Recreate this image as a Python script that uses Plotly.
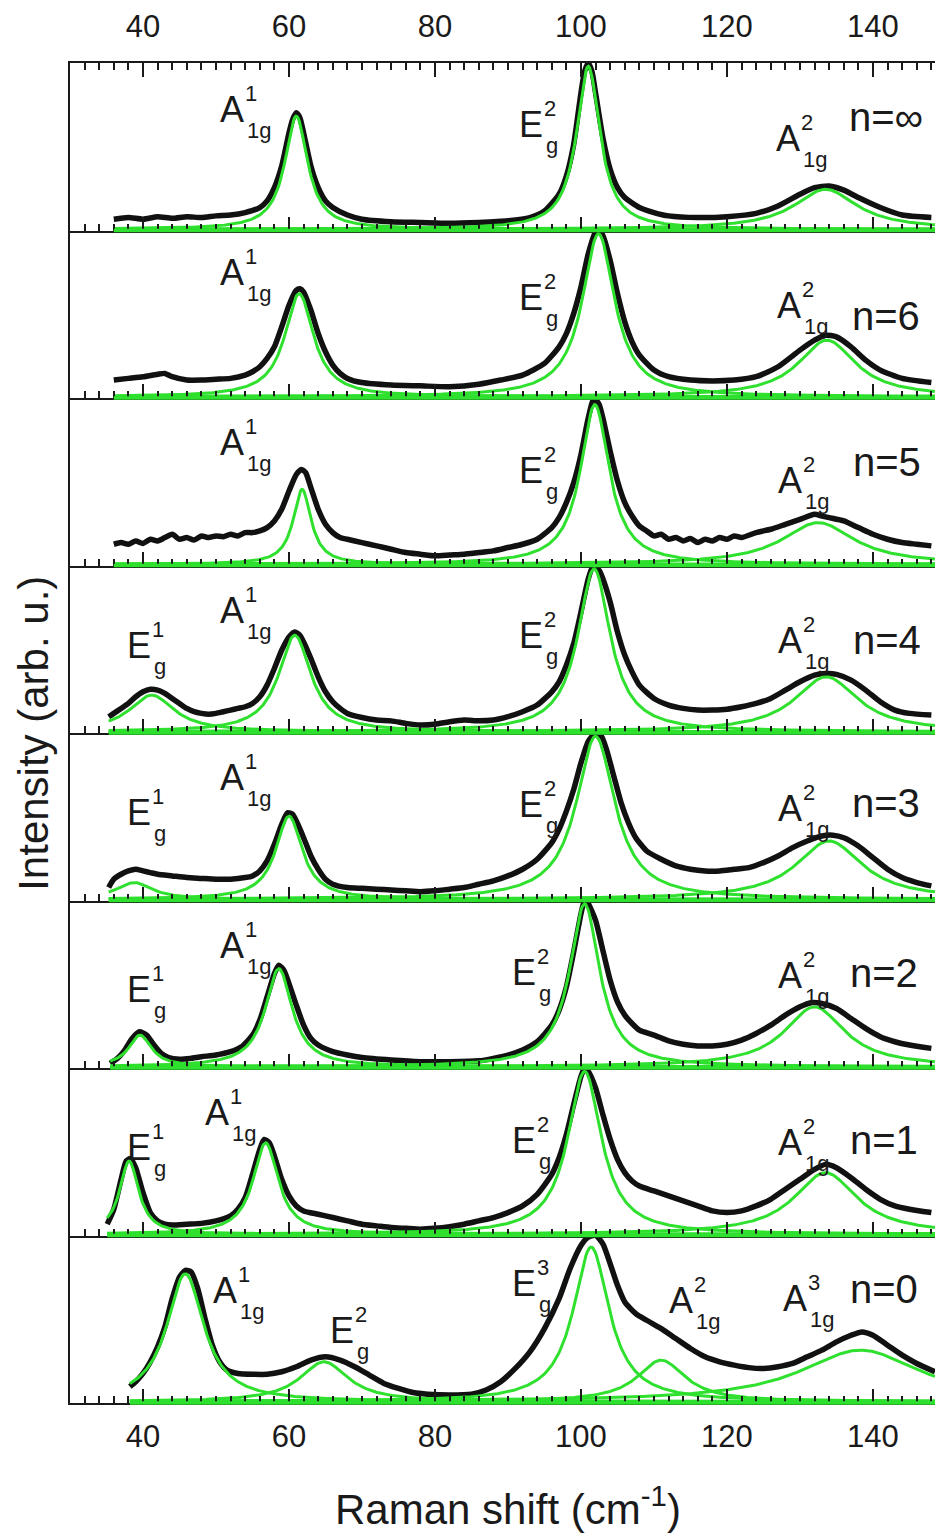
import numpy as np
import plotly.graph_objects as go
from plotly.subplots import make_subplots

FONT = "Liberation Sans, Arial, sans-serif"
INK = "#1a1a1a"
FIT_GREEN = "#2fe02f"

# Raman shift window (cm^-1)
X_MIN, X_MAX = 30, 148.5

# sample labels, top panel to bottom panel
samples = ["n=∞", "n=6", "n=5", "n=4", "n=3", "n=2", "n=1", "n=0"]

# ---- measured spectra (normalised intensity) ----
shift_inf = [36, 38, 40, 42, 44, 46, 48, 50, 52, 54,
             56, 57, 58, 59, 60, 60.5, 61, 61.5, 62, 63,
             64, 65, 66, 68, 70, 74, 78, 82, 86, 90,
             93, 95, 97, 98, 99, 100, 100.5, 101, 101.5, 102,
             103, 104, 105, 106, 108, 110, 112, 116, 120, 124,
             127, 130, 132, 134, 136, 138, 141, 144, 148]
int_inf = [0.06, 0.07, 0.06, 0.075, 0.065, 0.075, 0.07, 0.08, 0.085, 0.10,
           0.13, 0.17, 0.25, 0.38, 0.58, 0.66, 0.70, 0.67, 0.58, 0.38,
           0.25, 0.17, 0.13, 0.085, 0.06, 0.045, 0.04, 0.035, 0.04, 0.05,
           0.07, 0.11, 0.21, 0.32, 0.51, 0.82, 0.95, 1.0, 0.95, 0.82,
           0.55, 0.36, 0.25, 0.19, 0.13, 0.10, 0.08, 0.07, 0.075, 0.095,
           0.14, 0.21, 0.25, 0.26, 0.235, 0.19, 0.13, 0.085, 0.07]

shift_6 = [36, 38, 40, 42, 43, 44, 46, 48, 50, 52,
           54, 55, 56, 57, 58, 59, 60, 61, 61.5, 62,
           63, 64, 65, 66, 67, 68, 70, 74, 78, 82,
           86, 89, 92, 95, 97, 98, 99, 100, 101, 102,
           102.5, 103, 104, 105, 106, 107, 108, 110, 112, 115,
           118, 121, 124, 127, 130, 132, 133.5, 135, 137, 139,
           141, 144, 148]
int_6 = [0.10, 0.11, 0.12, 0.135, 0.14, 0.12, 0.10, 0.10, 0.105, 0.11,
         0.13, 0.15, 0.18, 0.23, 0.30, 0.42, 0.55, 0.64, 0.65, 0.63,
         0.52, 0.38, 0.27, 0.19, 0.14, 0.11, 0.085, 0.07, 0.065, 0.06,
         0.075, 0.10, 0.13, 0.20, 0.30, 0.38, 0.50, 0.66, 0.86, 0.99,
         1.0, 0.97, 0.82, 0.62, 0.45, 0.33, 0.25, 0.16, 0.12, 0.10,
         0.095, 0.10, 0.12, 0.18, 0.28, 0.34, 0.37, 0.36, 0.30, 0.22,
         0.16, 0.11, 0.085]

shift_5 = [36, 37, 38, 39, 40, 41, 42, 43, 44, 45,
           46, 47, 48, 49, 50, 51, 52, 53, 54, 55,
           56, 57, 58, 59, 60, 61, 61.7, 62.3, 63, 64,
           65, 66, 67, 68, 70, 72, 74, 76, 78, 80,
           82, 84, 86, 88, 90, 92, 94, 96, 97, 98,
           99, 100, 101, 101.8, 102.5, 103, 104, 105, 106, 107,
           108, 109, 110, 111, 112, 113, 114, 115, 116, 117,
           118, 119, 120, 121, 122, 124, 126, 128, 130, 132,
           133, 134, 136, 138, 140, 142, 144, 146, 148]
int_5 = [0.12, 0.13, 0.12, 0.14, 0.125, 0.15, 0.14, 0.16, 0.18, 0.15,
         0.16, 0.145, 0.17, 0.16, 0.17, 0.165, 0.18, 0.17, 0.19, 0.19,
         0.20, 0.22, 0.26, 0.33, 0.44, 0.54, 0.57, 0.55, 0.46, 0.33,
         0.24, 0.19, 0.16, 0.15, 0.13, 0.11, 0.09, 0.07, 0.06, 0.05,
         0.055, 0.06, 0.07, 0.08, 0.10, 0.12, 0.15, 0.22, 0.28, 0.37,
         0.49, 0.66, 0.88, 1.0, 0.96, 0.88, 0.68, 0.50, 0.37, 0.29,
         0.23, 0.20, 0.17, 0.18, 0.15, 0.16, 0.14, 0.155, 0.13, 0.15,
         0.14, 0.16, 0.15, 0.17, 0.16, 0.19, 0.21, 0.24, 0.27, 0.30,
         0.29, 0.28, 0.26, 0.22, 0.18, 0.15, 0.13, 0.12, 0.11]

shift_4 = [35.3, 36, 37, 38, 39, 40, 41, 42, 43, 44,
           45, 46, 47, 48, 49, 50, 51, 52, 53, 54,
           55, 56, 57, 58, 59, 60, 60.8, 61.5, 62, 63,
           64, 65, 66, 67, 68, 70, 72, 74, 76, 78,
           80, 82, 84, 86, 88, 90, 92, 94, 96, 97,
           98, 99, 100, 101, 101.7, 102.5, 103, 104, 105, 106,
           107, 108, 110, 112, 114, 116, 118, 120, 122, 124,
           126, 128, 130, 132, 133.5, 135, 137, 139, 141, 143,
           145, 148]
int_4 = [0.09, 0.11, 0.14, 0.17, 0.21, 0.24, 0.255, 0.25, 0.23, 0.20,
         0.17, 0.14, 0.12, 0.11, 0.105, 0.11, 0.12, 0.13, 0.14, 0.15,
         0.17, 0.21, 0.28, 0.38, 0.49, 0.57, 0.60, 0.58, 0.54, 0.44,
         0.33, 0.24, 0.18, 0.14, 0.11, 0.085, 0.07, 0.065, 0.05, 0.04,
         0.045, 0.06, 0.07, 0.065, 0.07, 0.09, 0.12, 0.16, 0.24, 0.30,
         0.40, 0.53, 0.72, 0.92, 1.0, 0.97, 0.92, 0.78, 0.60, 0.46,
         0.36, 0.28, 0.20, 0.16, 0.14, 0.13, 0.13, 0.135, 0.15, 0.17,
         0.20, 0.25, 0.30, 0.34, 0.35, 0.345, 0.31, 0.25, 0.18, 0.13,
         0.11, 0.10]

shift_3 = [35.3, 36, 37, 38, 39, 40, 41, 42, 44, 46,
           48, 50, 52, 54, 55, 56, 57, 58, 59, 59.8,
           60.5, 61, 62, 63, 64, 65, 66, 68, 70, 72,
           74, 76, 78, 80, 82, 84, 86, 88, 90, 92,
           94, 96, 97, 98, 99, 100, 101, 102, 102.8, 103.5,
           104.5, 105.5, 106.5, 107.5, 109, 111, 113, 115, 117, 119,
           121, 123, 125, 127, 129, 131, 133, 134.5, 136, 138,
           140, 142, 144, 146, 148]
int_3 = [0.07, 0.12, 0.15, 0.17, 0.18, 0.17, 0.16, 0.15, 0.14, 0.13,
         0.125, 0.12, 0.12, 0.13, 0.14, 0.17, 0.23, 0.33, 0.45, 0.52,
         0.51, 0.47, 0.37, 0.26, 0.18, 0.12, 0.09, 0.07, 0.065, 0.06,
         0.055, 0.05, 0.045, 0.05, 0.06, 0.07, 0.09, 0.11, 0.14, 0.18,
         0.24, 0.34, 0.42, 0.53, 0.66, 0.82, 0.95, 1.0, 0.98, 0.90,
         0.74, 0.58, 0.46, 0.37, 0.29, 0.24, 0.20, 0.18, 0.17, 0.17,
         0.18, 0.19, 0.22, 0.26, 0.31, 0.35, 0.38, 0.385, 0.37, 0.32,
         0.25, 0.18, 0.13, 0.10, 0.08]

shift_2 = [35.5, 36.5, 37.5, 38.5, 39.5, 40.5, 41.5, 42.5, 43.5, 45,
           46.5, 48, 50, 52, 53.5, 55, 56, 57, 58, 58.6,
           59.3, 60, 61, 62, 63, 64, 66, 68, 70, 74,
           78, 82, 86, 88, 90, 92, 94, 96, 97, 98,
           99, 100, 100.5, 101, 102, 103, 104, 105, 106, 107,
           108, 110, 112, 114, 116, 118, 120, 122, 124, 126,
           128, 130, 131.5, 133, 135, 137, 139, 141, 143, 145,
           148]
int_2 = [0.02, 0.05, 0.10, 0.17, 0.21, 0.19, 0.13, 0.08, 0.055, 0.045,
         0.05, 0.06, 0.07, 0.09, 0.12, 0.19, 0.28, 0.42, 0.56, 0.61,
         0.58, 0.50, 0.37, 0.25, 0.17, 0.13, 0.09, 0.07, 0.055, 0.04,
         0.03, 0.03, 0.035, 0.05, 0.07, 0.10, 0.15, 0.25, 0.34, 0.48,
         0.69, 0.92, 1.0, 0.98, 0.88, 0.70, 0.52, 0.39, 0.31, 0.26,
         0.22, 0.19, 0.155, 0.135, 0.125, 0.125, 0.135, 0.16, 0.20, 0.25,
         0.31, 0.36, 0.385, 0.38, 0.35, 0.29, 0.23, 0.18, 0.15, 0.13,
         0.11]

shift_1 = [35.1, 36, 37, 37.7, 38.3, 39, 40, 41, 42, 43,
           44, 46, 48, 50, 52, 53, 54, 55, 56, 56.6,
           57.3, 58, 59, 60, 61, 62, 64, 66, 68, 70,
           72, 74, 76, 78, 80, 82, 84, 86, 88, 90,
           92, 94, 96, 97, 98, 99, 100, 100.5, 101, 102,
           103, 104, 105, 106, 107, 108, 110, 112, 114, 116,
           118, 120, 122, 124, 126, 128, 130, 132, 133.5, 135,
           137, 139, 141, 143, 145, 148]
int_1 = [0.06, 0.15, 0.33, 0.44, 0.455, 0.40, 0.25, 0.13, 0.08, 0.06,
         0.055, 0.06, 0.065, 0.08, 0.11, 0.15, 0.22, 0.36, 0.51, 0.57,
         0.55, 0.47, 0.33, 0.23, 0.17, 0.14, 0.12, 0.10, 0.08, 0.06,
         0.05, 0.04, 0.035, 0.03, 0.035, 0.045, 0.06, 0.08, 0.10, 0.13,
         0.17, 0.24, 0.36, 0.46, 0.60, 0.78, 0.95, 1.0, 0.98, 0.88,
         0.72, 0.57, 0.45, 0.37, 0.32, 0.29, 0.26, 0.23, 0.20, 0.17,
         0.14, 0.13, 0.14, 0.17, 0.21, 0.27, 0.33, 0.39, 0.42, 0.40,
         0.34, 0.27, 0.21, 0.17, 0.15, 0.13]

shift_0 = [38.2, 39, 40, 41, 42, 43, 44, 45, 45.8, 46.6,
           47.5, 48.5, 49.5, 50.5, 51.5, 53, 55, 57, 59, 61,
           63, 65, 67, 69, 71, 73, 75, 77, 79, 82,
           85, 87, 89, 91, 93, 95, 97, 98.5, 100, 101,
           102, 103, 104, 105, 106, 107.5, 109, 111, 113, 115,
           117, 119, 121, 123, 125, 127, 129, 131, 133, 135,
           137, 138.5, 140, 142, 144, 146, 148.5]
int_0 = [0.09, 0.12, 0.17, 0.24, 0.33, 0.45, 0.62, 0.75, 0.79, 0.78,
         0.68, 0.50, 0.34, 0.24, 0.19, 0.17, 0.165, 0.165, 0.18, 0.21,
         0.25, 0.27, 0.25, 0.21, 0.16, 0.11, 0.08, 0.055, 0.045, 0.04,
         0.045, 0.07, 0.12, 0.20, 0.30, 0.44, 0.62, 0.80, 0.94, 0.99,
         1.0, 0.95, 0.83, 0.70, 0.60, 0.53, 0.49, 0.44, 0.38, 0.32,
         0.27, 0.24, 0.22, 0.205, 0.20, 0.21, 0.23, 0.27, 0.31, 0.36,
         0.40, 0.42, 0.40, 0.34, 0.28, 0.23, 0.18]

spectra = [(shift_inf, int_inf), (shift_6, int_6), (shift_5, int_5), (shift_4, int_4),
           (shift_3, int_3), (shift_2, int_2), (shift_1, int_1), (shift_0, int_0)]

# ---- Lorentzian fit components: centre (cm^-1), FWHM (cm^-1), height ----
fit_center = [[61.0, 101.0, 133.5],
              [61.4, 102.4, 133.7],
              [61.8, 101.9, 132.5],
              [41.2, 60.8, 101.8, 133.6],
              [38.8, 60.0, 102.0, 134.0],
              [39.6, 58.6, 100.5, 132.0],
              [38.1, 56.8, 100.5, 133.5],
              [45.8, 64.8, 101.4, 111.0, 138.3]]
fit_fwhm = [[3.8, 3.9, 10.5],
            [4.8, 5.4, 9.5],
            [3.0, 4.8, 12.0],
            [7.5, 5.4, 5.4, 10.5],
            [6.0, 4.4, 6.4, 11.0],
            [3.8, 4.5, 5.0, 10.0],
            [3.2, 4.2, 5.6, 10.5],
            [6.2, 8.0, 6.0, 8.0, 20.0]]
fit_height = [[0.68, 0.98, 0.24],
              [0.62, 0.98, 0.34],
              [0.45, 0.96, 0.25],
              [0.22, 0.58, 0.98, 0.33],
              [0.10, 0.50, 0.98, 0.35],
              [0.19, 0.59, 0.98, 0.36],
              [0.44, 0.55, 0.98, 0.37],
              [0.77, 0.24, 0.93, 0.25, 0.31]]
fit_start = [36.0, 36.0, 36.0, 35.3, 35.3, 35.5, 35.1, 38.2]

# ---- mode labels: (letter, superscript, subscript, shift, height in panel) ----
mode_labels = [
    [("A", "1", "1g", 52.2, 0.72), ("E", "2", "g", 93.15, 0.63), ("A", "2", "1g", 128.4, 0.55)],
    [("A", "1", "1g", 52.2, 0.75), ("E", "2", "g", 93.15, 0.60), ("A", "2", "1g", 128.5, 0.555)],
    [("A", "1", "1g", 52.2, 0.737), ("E", "2", "g", 93.15, 0.57), ("A", "2", "1g", 128.6, 0.51)],
    [("E", "1", "g", 39.45, 0.525), ("A", "1", "1g", 52.2, 0.734), ("E", "2", "g", 93.15, 0.58),
     ("A", "2", "1g", 128.6, 0.555)],
    [("E", "1", "g", 39.45, 0.528), ("A", "1", "1g", 52.2, 0.737), ("E", "2", "g", 93.15, 0.576),
     ("A", "2", "1g", 128.6, 0.552)],
    [("E", "1", "g", 39.45, 0.466), ("A", "1", "1g", 52.2, 0.734), ("E", "2", "g", 92.2, 0.573),
     ("A", "2", "1g", 128.6, 0.555)],
    [("E", "1", "g", 39.45, 0.528), ("A", "1", "1g", 50.1, 0.737), ("E", "2", "g", 92.2, 0.57),
     ("A", "2", "1g", 128.6, 0.558)],
    [("A", "1", "1g", 51.2, 0.669), ("E", "2", "g", 67.3, 0.43), ("E", "3", "g", 92.2, 0.716),
     ("A", "2", "1g", 113.7, 0.609), ("A", "3", "1g", 129.3, 0.621)],
]
sample_label_x = [136.4, 136.85, 137.0, 137.0, 136.85, 136.6, 136.6, 136.6]
sample_label_y = [0.68, 0.49, 0.62, 0.555, 0.58, 0.57, 0.57, 0.68]

N = len(samples)
fig = make_subplots(rows=N, cols=1, vertical_spacing=0)


def lorentz(x, c, fwhm, h):
    return h / (1.0 + ((x - c) / (fwhm / 2.0)) ** 2)


for i in range(N):
    row = i + 1
    sx, sy = spectra[i]
    fig.add_trace(go.Scatter(x=sx, y=sy, mode="lines",
                             line=dict(color="#111111", width=5.5, shape="spline", smoothing=0.6),
                             hoverinfo="skip", showlegend=False), row=row, col=1)
    grid = np.linspace(fit_start[i], X_MAX, 700)
    for c, w, h in zip(fit_center[i], fit_fwhm[i], fit_height[i]):
        fig.add_trace(go.Scatter(x=grid, y=lorentz(grid, c, w, h), mode="lines",
                                 line=dict(color=FIT_GREEN, width=3),
                                 hoverinfo="skip", showlegend=False), row=row, col=1)

    top = row == 1
    bottom = row == N
    fig.update_xaxes(row=row, col=1, range=[X_MIN, X_MAX], autorange=False,
                     showline=True, linecolor=INK, linewidth=2,
                     ticks="inside", ticklen=14, tickwidth=2, tickcolor=INK,
                     tick0=0, dtick=20,
                     minor=dict(ticks="inside", dtick=2, ticklen=7, tickwidth=1.5, tickcolor=INK),
                     showgrid=False, zeroline=False,
                     showticklabels=top or bottom,
                     side="top" if top else "bottom",
                     mirror="allticks" if top else False,
                     ticklabelstandoff=12 if top else 5,
                     tickfont=dict(family=FONT, size=31, color=INK),
                     automargin=False)
    fig.update_yaxes(row=row, col=1, range=[-0.008, 1.0], autorange=False,
                     showline=True, linecolor=INK, linewidth=2,
                     ticks="", showticklabels=False, showgrid=False, zeroline=False,
                     automargin=False)

    xr = "x" if row == 1 else f"x{row}"
    yr = ("y" if row == 1 else f"y{row}") + " domain"

    # the fitted components' common zero line, drawn over the panel's lower edge
    fig.add_shape(type="line", xref=xr, yref=yr, x0=fit_start[i], x1=X_MAX, y0=0, y1=0,
                  line=dict(color=FIT_GREEN, width=3.5), layer="above")

    for letter, sup, sub, lx, ly in mode_labels[i]:
        fig.add_annotation(x=lx, y=ly, xref=xr, yref=yr, text=letter, showarrow=False,
                           xanchor="center", yanchor="middle",
                           font=dict(family=FONT, size=36, color=INK))
        fig.add_annotation(x=lx, y=ly, xref=xr, yref=yr, text=sup, showarrow=False,
                           xanchor="left", yanchor="middle", xshift=11, yshift=16,
                           font=dict(family=FONT, size=22, color=INK))
        fig.add_annotation(x=lx, y=ly, xref=xr, yref=yr, text=sub, showarrow=False,
                           xanchor="left", yanchor="middle", xshift=13, yshift=-21,
                           font=dict(family=FONT, size=22, color=INK))
    fig.add_annotation(x=sample_label_x[i], y=sample_label_y[i], xref=xr, yref=yr,
                       text=samples[i], showarrow=False, xanchor="left", yanchor="middle",
                       font=dict(family=FONT, size=40, color=INK))

# axis titles
fig.add_annotation(x=0.506, y=-0.0765, xref="paper", yref="paper",
                   text="Raman shift (cm<sup>-1</sup>)", showarrow=False,
                   xanchor="center", yanchor="middle",
                   font=dict(family=FONT, size=42, color=INK))
fig.add_annotation(x=-0.043, y=0.5, xref="paper", yref="paper",
                   text="Intensity (arb. u.)", textangle=-90, showarrow=False,
                   xanchor="center", yanchor="middle",
                   font=dict(family=FONT, size=42, color=INK))

fig.update_layout(width=935, height=1535, template="none",
                  margin=dict(l=70, r=0, t=63, b=132, pad=0),
                  paper_bgcolor="white", plot_bgcolor="white",
                  showlegend=False)

fig.write_html("out.html")
